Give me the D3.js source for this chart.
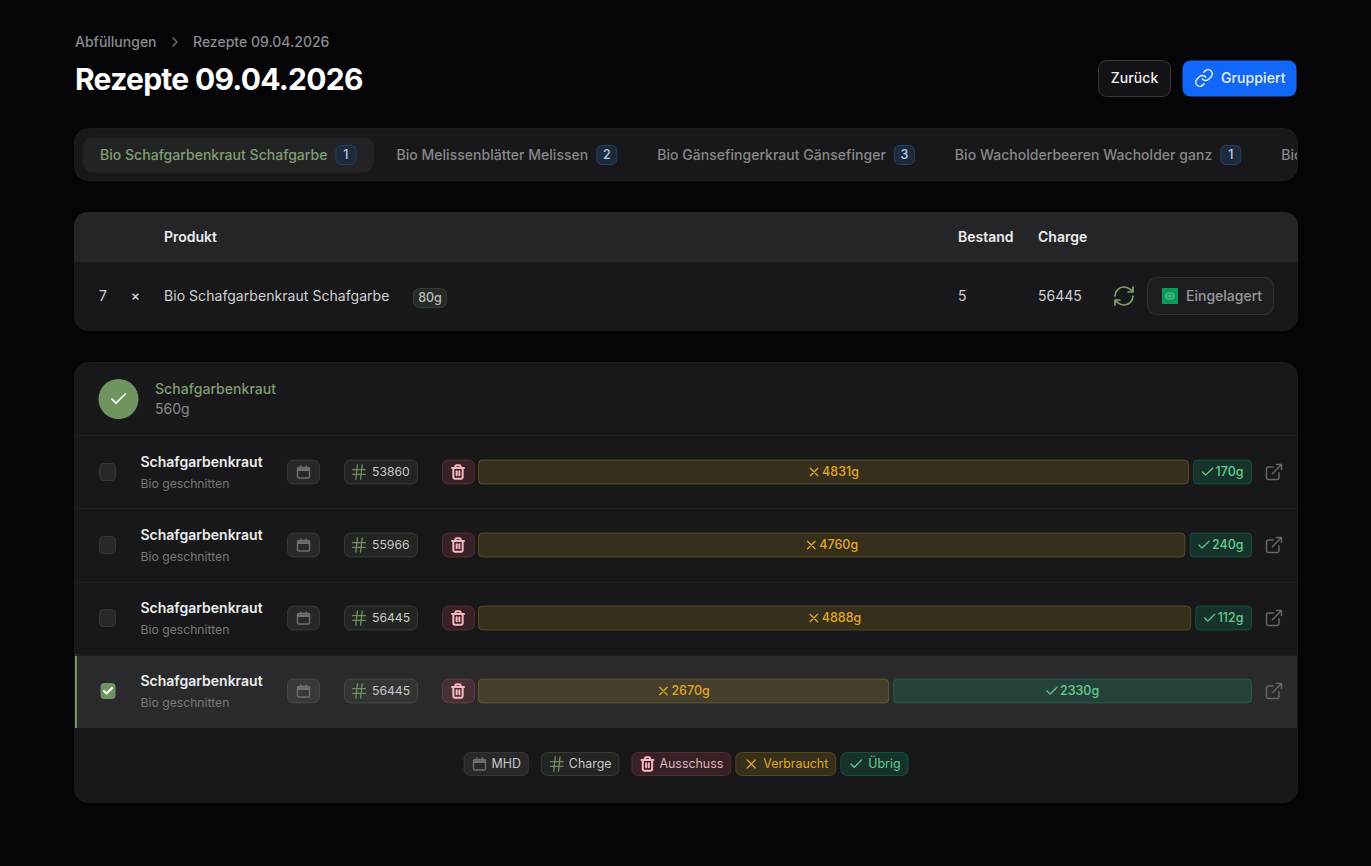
<!DOCTYPE html>
<meta charset="utf-8">
<title>Rezepte 09.04.2026</title>
<style>
  html, body { margin: 0; background: #050507; overflow: hidden; }
  svg { display: block; }
  text { font-family: Inter, "Noto Sans", sans-serif; font-size: 14px; dominant-baseline: central; }
  .icon { fill: none; stroke-linecap: round; stroke-linejoin: round; }
</style>
<body>
<script src="https://d3js.org/d3.v7.min.js"></script>
<script>
// data
var crumbs = ["Abfüllungen", "Rezepte 09.04.2026"];
var tabNames = ["Bio Schafgarbenkraut Schafgarbe", "Bio Melissenblätter Melissen", "Bio Gänsefingerkraut Gänsefinger", "Bio Wacholderbeeren Wacholder ganz", "Bio"];
var tabCounts = [1, 2, 3, 1];
var chargeNumbers = ["53860", "55966", "56445", "56445"];
var verbraucht = [4831, 4760, 4888, 2670];
var uebrig = [170, 240, 112, 2330];
var legendNames = ["MHD", "Charge", "Ausschuss", "Verbraucht", "Übrig"];

var width = 1371, height = 866;

var paths = {
  chevron: "M9 18l6-6-6-6",
  link: "M10 13a5 5 0 0 0 7.54.54l3-3a5 5 0 0 0-7.07-7.07l-1.72 1.71M14 11a5 5 0 0 0-7.54-.54l-3 3a5 5 0 0 0 7.07 7.07l1.71-1.71",
  refresh: "M3 12a9 9 0 0 1 9-9 9.75 9.75 0 0 1 6.74 2.74L21 8M21 3v5h-5M21 12a9 9 0 0 1-9 9 9.75 9.75 0 0 1-6.74-2.74L3 16M8 16H3v5",
  check: "M20 6L9 17l-5-5",
  x: "M18 6L6 18M6 6l12 12",
  hash: "M4 9h16M4 15h16M10 3L8 21M16 3l-2 18",
  calendar: "M8 3v3M16 3v3M5 5h14a2 2 0 0 1 2 2v12a2 2 0 0 1-2 2H5a2 2 0 0 1-2-2V7a2 2 0 0 1 2-2zM3 7.5h18M3 9.5h18",
  trash: "M3 6h18M19 6v14a2 2 0 0 1-2 2H7a2 2 0 0 1-2-2V6M8 6V4a2 2 0 0 1 2-2h4a2 2 0 0 1 2 2v2M10 11v6M14 11v6",
  external: "M15 3h6v6M10 14L21 3M18 13v6a2 2 0 0 1-2 2H5a2 2 0 0 1-2-2V8a2 2 0 0 1 2-2h6"
};

var pill = {
  grey: { fill: "rgba(255,255,255,0.07)", stroke: "rgba(255,255,255,0.1)", icon: "#6f6f74", text: "#c9c9cc" },
  charge: { fill: "rgba(150,190,140,0.08)", stroke: "rgba(170,200,160,0.16)", icon: "#6f8f63", text: "#c9c9cc" },
  red: { fill: "rgba(240,90,110,0.15)", stroke: "rgba(240,100,120,0.22)", icon: "#f7b9bf", text: "#d8b4b9" },
  yellow: { fill: "rgba(220,178,40,0.15)", stroke: "rgba(220,178,40,0.25)", icon: "#e2a81c", text: "#e2a81c" },
  green: { fill: "rgba(16,185,129,0.17)", stroke: "rgba(16,185,129,0.28)", icon: "#5fce8e", text: "#5fce8e" }
};

var svg = d3.select("body").append("svg").attr("width", width).attr("height", height);

function box(g, x, y, w, h, r, fill, stroke) {
  return g.append("rect").attr("x", x + 0.5).attr("y", y + 0.5)
    .attr("width", w - 1).attr("height", h - 1).attr("rx", r)
    .attr("fill", fill).attr("stroke", stroke || "none");
}

function label(g, x, y, s, size, weight, color, anchor) {
  return g.append("text").attr("x", x).attr("y", y - 0.75).text(s)
    .attr("font-size", size).attr("font-weight", weight).attr("fill", color)
    .style("font-size", size + "px")
    .attr("text-anchor", anchor || "start");
}

function icon(g, name, cx, cy, size, color, sw) {
  var k = size / 24;
  g.append("path").attr("class", "icon").attr("d", paths[name])
    .attr("transform", "translate(" + (cx - size / 2) + "," + (cy - size / 2) + ") scale(" + k + ")")
    .attr("stroke", color).attr("stroke-width", (sw || 1.5) / k);
}

// breadcrumb + title
label(svg, 75, 42, crumbs[0], 14, 500, "#8b8b90");
icon(svg, "chevron", 175, 42, 16, "#77777c", 1.3);
label(svg, 193, 42, crumbs[1], 14, 500, "#8b8b90");
label(svg, 75, 79.5, crumbs[1], 30, 700, "#ffffff").style("letter-spacing", "-0.72px");

// top buttons
box(svg, 1098, 60, 73, 37, 8, "#131315", "#36363a");
label(svg, 1134.5, 78, "Zurück", 14, 500, "#f0f0f2", "middle").style("letter-spacing", "0.1px");
box(svg, 1182, 60, 115, 37, 8, "#1267fb");
icon(svg, "link", 1204, 78, 20, "#eaf1ff", 1.5);
label(svg, 1221, 78, "Gruppiert", 14, 500, "#eaf1ff").style("letter-spacing", "0.1px");

// tab strip
box(svg, 74, 128, 1224, 53, 14, "#18181a", "#1c1c1e");
svg.append("clipPath").attr("id", "tabclip").append("rect")
  .attr("x", 74).attr("y", 128).attr("width", 1223).attr("height", 53);
var tabs = svg.append("g").attr("clip-path", "url(#tabclip)");
var tabX = 82;
tabNames.forEach(function(name, i) {
  var g = tabs.append("g");
  var active = i == 0;
  var bg = box(g, tabX, 137, 10, 36, 10, active ? "#232325" : "none");
  var t = label(g, tabX + 18, 155, name, 14, 500, active ? "#7f9f6f" : "#87878c").style("letter-spacing", "0.03px");
  var w = t.node().getComputedTextLength();
  var tw = 18 + w + 8 + 21 + 18;
  bg.attr("width", tw - 1);
  if (tabCounts[i] != null) {
    var bx = tabX + 18 + w + 8;
    box(g, bx, 145, 21, 20, 5, "#1b2a3c", "#28405a");
    label(g, bx + 10.5, 155, tabCounts[i], 12.5, 500, "#b9cde4", "middle");
  }
  tabX += tw + 4;
});

// product table
var tableClip = svg.append("clipPath").attr("id", "tableclip");
tableClip.append("rect").attr("x", 74).attr("y", 212).attr("width", 1224).attr("height", 119).attr("rx", 14);
box(svg, 74, 212, 1224, 119, 14, "#18181a", "#1c1c1e");
svg.append("rect").attr("clip-path", "url(#tableclip)")
  .attr("x", 74).attr("y", 212).attr("width", 1224).attr("height", 50).attr("fill", "#252527");
label(svg, 164, 237, "Produkt", 14, 600, "#ececee");
label(svg, 958, 237, "Bestand", 14, 600, "#ececee");
label(svg, 1038, 237, "Charge", 14, 600, "#ececee");
label(svg, 99, 296, "7", 14, 400, "#d0d0d3");
label(svg, 135.5, 296, "×", 14, 500, "#d0d0d3", "middle");
label(svg, 164, 296, tabNames[0], 14, 400, "#d0d0d3").style("letter-spacing", "0.05px");
box(svg, 413, 288, 34, 20, 6, "#252b26", "#373f38");
label(svg, 430, 298, "80g", 12.5, 500, "#b9beb8", "middle");
label(svg, 958, 296, "5", 14, 400, "#d0d0d3");
label(svg, 1038, 296, "56445", 14, 400, "#d0d0d3");
icon(svg, "refresh", 1124, 296, 24, "#7f9f6f", 1.7);
box(svg, 1147, 277, 127, 38, 9, "#1e1e20", "#323235");
svg.append("rect").attr("x", 1162).attr("y", 288).attr("width", 16).attr("height", 16).attr("fill", "#0c9a55");
svg.append("path").attr("d", "M1168 293h4a2 2 0 0 1 2 2v2a2 2 0 0 1-2 2h-4a2 2 0 0 1-2-2v-2a2 2 0 0 1 2-2zM1166 296h8M1170 293v6")
  .attr("fill", "none").attr("stroke", "#63c997").attr("stroke-width", 0.9);
label(svg, 1186, 296, "Eingelagert", 14, 500, "#98989c");

// recipe card
box(svg, 74, 362, 1224, 441, 14, "#18181a", "#1c1c1e");
svg.append("circle").attr("cx", 118.5).attr("cy", 399).attr("r", 20).attr("fill", "#6f9460");
icon(svg, "check", 118.5, 399, 20, "#ffffff", 1.6);
label(svg, 155, 389, "Schafgarbenkraut", 14, 500, "#7f9f6f").style("letter-spacing", "0.05px");
label(svg, 155, 409.5, "560g", 14, 400, "#8b8b90");

var rowScale = d3.scaleBand().domain(d3.range(chargeNumbers.length)).range([435, 728]);
var barScale = d3.scaleLinear().domain([0, 5000]).range([0, 770]);
var barLeft = 478, barRight = 1252, barGap = 4;

function sideLabel(g, name, s, cx, cy, style) {
  // icon and value centred together inside a bar
  var t = label(g, 0, cy + 0.5, s, 12.5, 500, style.text);
  var w = t.node().getComputedTextLength();
  var left = cx - (w + 14) / 2;
  t.attr("x", left + 14);
  icon(g, name, left + 6, cy, 15, style.icon, 1.3);
  return w;
}

chargeNumbers.forEach(function(charge, i) {
  var g = svg.append("g");
  var top = rowScale(i), h = rowScale.bandwidth(), cy = Math.round(top + h / 2);
  var last = i == chargeNumbers.length - 1;
  if (last) {
    g.append("rect").attr("x", 75).attr("y", top).attr("width", 1222).attr("height", h).attr("fill", "#2a2a2c");
    g.append("rect").attr("x", 75).attr("y", top).attr("width", 2).attr("height", h).attr("fill", "#6f9460");
  }
  g.append("line").attr("x1", 75).attr("x2", 1297).attr("y1", Math.round(top) + 0.5).attr("y2", Math.round(top) + 0.5).attr("stroke", "#1f1f21");

  if (last) {
    box(g, 100, cy - 8.5, 16, 17, 4, "#6f9460");
    icon(g, "check", 108, cy, 12, "#ffffff", 2);
  } else {
    box(g, 99, cy - 9, 17, 18, 4, "#28282a", "#37373a");
  }
  label(g, 140.5, cy - 10, "Schafgarbenkraut", 14, 600, "#ececee");
  label(g, 140.5, cy + 12.5, "Bio geschnitten", 12.2, 400, "#77777c");

  var by = cy - 12.5, bh = 25;
  box(g, 287, by, 33, bh, 6, pill.grey.fill, pill.grey.stroke);
  icon(g, "calendar", 303.5, cy, 16, pill.grey.icon, 1.4);

  box(g, 344, by, 74, bh, 6, pill.charge.fill, pill.charge.stroke);
  icon(g, "hash", 359, cy, 19, pill.charge.icon, 1.3);
  label(g, 372, cy + 0.5, charge, 12.2, 400, pill.charge.text);

  box(g, 442, by, 33, bh, 6, pill.red.fill, pill.red.stroke);
  icon(g, "trash", 458, cy, 16, pill.red.icon, 2);

  // the green part never gets narrower than its label
  var probe = label(g, 0, 0, uebrig[i] + "g", 12.5, 500, "none");
  var minW = probe.node().getComputedTextLength() + 31;
  probe.remove();
  var greenW = Math.max(barScale(uebrig[i]), minW);
  var yellowW = barRight - barLeft - barGap - greenW;
  box(g, barLeft, by, yellowW, bh, 4, pill.yellow.fill, pill.yellow.stroke);
  sideLabel(g, "x", verbraucht[i] + "g", barLeft + yellowW / 2, cy, pill.yellow);
  box(g, barRight - greenW, by, greenW, bh, 4, pill.green.fill, pill.green.stroke);
  sideLabel(g, "check", uebrig[i] + "g", barRight - greenW / 2, cy, pill.green);

  icon(g, "external", 1274, cy, 20, "#66666b", 1.5);
});

// legend
var legendIcons = ["calendar", "hash", "trash", "x", "check"];
var legendStyles = [pill.grey, pill.charge, pill.red, pill.yellow, pill.green];
var legendGaps = [12, 12, 4, 4, 0];
var legend = svg.append("g");
var lx = 0;
legendNames.forEach(function(name, i) {
  var g = legend.append("g");
  var s = legendStyles[i];
  var t = label(g, lx + 28, 764.5, name, 12.4, 400, s.text);
  var w = t.node().getComputedTextLength() + 36;
  var r = box(g, lx, 752, w, 24, 6, s.fill, s.stroke);
  r.lower();
  icon(g, legendIcons[i], lx + 16, 764, i == 1 ? 19 : 16, s.icon, i == 2 ? 2 : 1.3);
  lx += w + legendGaps[i];
});
legend.attr("transform", "translate(" + (686 - lx / 2) + ",0)");
</script>
</body>
</html>
